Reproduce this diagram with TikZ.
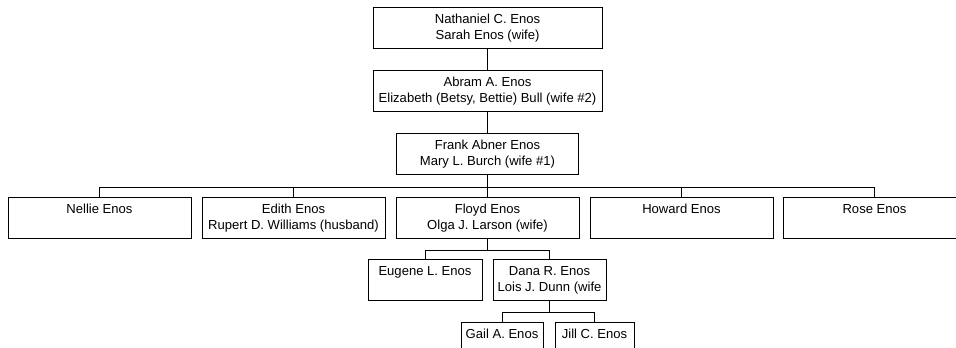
\documentclass[tikz,border=0pt]{standalone}
\usepackage{fontspec}
\setmainfont{Liberation Sans}
\usepackage{tikz}

\tikzset{
    person/.style={draw, line width=0.75pt, rectangle, align=center, anchor=north,
        minimum height=30.75pt, inner sep=0pt, font=\fontsize{9.8}{12}\selectfont},
    link/.style={line width=0.75pt}
}

\begin{document}
\begin{tikzpicture}[x=0.75pt, y=-0.75pt]
        \useasboundingbox (0,0) rectangle (956,347);
        \clip (0,0) rectangle (956,347);

        \node[person, minimum width=171.75pt] (nathaniel) at (487.5,7) {Nathaniel C. Enos\\Sarah Enos (wife)};
        \node[person, minimum width=171.75pt] (abram) at (487.5,70) {Abram A. Enos\\Elizabeth (Betsy, Bettie) Bull (wife \#2)};
        \node[person, minimum width=136.5pt] (frank) at (487.5,133) {Frank Abner Enos\\Mary L. Burch (wife \#1)};

        \node[person, minimum width=137.25pt] (nellie) at (99.5,197) {Nellie Enos\\\vphantom{()}};
        \node[person, minimum width=137.25pt] (edith) at (293.5,197) {Edith Enos\\Rupert D. Williams (husband)};
        \node[person, minimum width=137.25pt] (floyd) at (487.5,197) {Floyd Enos\\Olga J. Larson (wife)};
        \node[person, minimum width=137.25pt] (howard) at (681.5,197) {Howard Enos\\\vphantom{()}};
        \node[person, minimum width=137.25pt] (rose) at (874.5,197) {Rose Enos\\\vphantom{()}};

        \node[person, minimum width=85.5pt] (eugene) at (425,259) {Eugene L. Enos\\\vphantom{()}};
        \node[person, minimum width=84.75pt] (dana) at (549.5,259) {Dana R. Enos\\Lois J. Dunn (wife};

        \node[person, minimum width=61.5pt] (gail) at (502,322) {Gail A. Enos\\\vphantom{()}};
        \node[person, minimum width=59.25pt] (jill) at (594.5,322) {Jill C. Enos\\\vphantom{()}};

        \draw[link] (nathaniel.south) -- (abram.north);
        \draw[link] (abram.south) -- (frank.north);

        \draw[link] (frank.south) -- ++(0,12) coordinate (frankbus);
        \foreach \child in {nellie, edith, floyd, howard, rose}
            \draw[link] (frankbus) -| (\child.north);

        \draw[link] (floyd.south) -- ++(0,11) coordinate (floydbus);
        \foreach \child in {eugene, dana}
            \draw[link] (floydbus) -| (\child.north);

        \draw[link] (dana.south) -- ++(0,11) coordinate (danabus);
        \foreach \child in {gail, jill}
            \draw[link] (danabus) -| (\child.north);

    \end{tikzpicture}
\end{document}
